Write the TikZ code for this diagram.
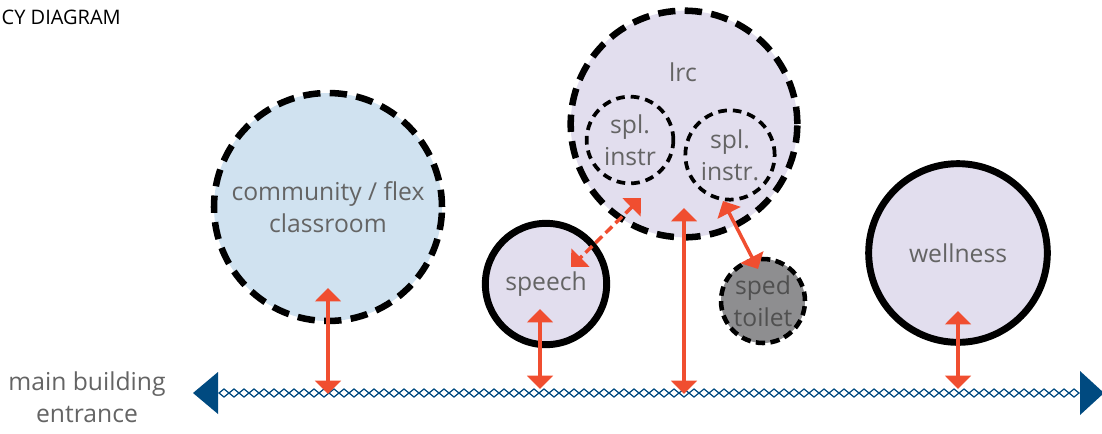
\documentclass[tikz,border=0pt]{standalone}
\usepackage{fontspec}
\setmainfont{Open Sans}
\usetikzlibrary{arrows.meta}
\definecolor{txt}{RGB}{100,100,100}
\definecolor{darktxt}{RGB}{80,80,80}
\definecolor{lblue}{RGB}{208,226,240}
\definecolor{lav}{RGB}{226,222,238}
\definecolor{sgray}{RGB}{142,142,144}
\definecolor{navy}{RGB}{0,74,128}
\definecolor{redarr}{RGB}{240,78,48}
\tikzset{
  lbl/.style={text=txt, font=\fontsize{18.5}{24}\selectfont, align=center},
  room/.style={circle, inner sep=0pt, lbl},
  bigdash/.style={draw=black, line width=4.9pt, dash pattern=on 13pt off 7pt},
  smalldash/.style={draw=black, line width=2.8pt, dash pattern=on 6.5pt off 4.5pt},
  solidb/.style={draw=black, line width=5.2pt},
  link/.style={draw=redarr, line width=2.6pt, {Triangle[width=19pt,length=10pt]}-{Triangle[width=19pt,length=10pt]}},
}
\begin{document}
\begin{tikzpicture}[x=0.75pt, y=-0.75pt]
\useasboundingbox (0,0) rectangle (1102,433);
\node[anchor=west, text=black, font=\fontsize{15}{17}\selectfont] (title) at (-3,17) {CY DIAGRAM};
% rooms
\node[room, bigdash, fill=lblue, minimum size=171pt] (comm) at (328,207) {community / flex\\classroom};
\node[room, bigdash, fill=lav, minimum size=170pt] (lrc) at (684,124) {};
\node[lbl] (lrclbl) at (683,72) {lrc};
\node[room, smalldash, fill=lav, minimum size=65pt] (spl1) at (630,140) {spl.\\instr};
\node[room, smalldash, fill=lav, minimum size=67pt] (spl2) at (730,155) {spl.\\instr.};
\node[room, solidb, fill=lav, minimum size=91pt] (speech) at (546,284) {speech};
\node[room, draw=black, line width=3.4pt, dash pattern=on 7pt off 4pt, fill=sgray, text=darktxt, minimum size=63pt] (sped) at (763,301) {sped\\toilet};
\node[room, solidb, fill=lav, minimum size=134pt] (well) at (958,253) {wellness};
\node[lbl] (entr) at (87,397) {main building\\entrance};
% entrance line
\coordinate (lt) at (193,393);
\coordinate (rt) at (1104,393);
\foreach \i in {0,...,85} {
  \draw[navy, line width=0.9pt] (219+10*\i,393) -- ++(5,-4) -- ++(5,4) -- ++(-5,4) -- cycle;
}
\fill[navy] (lt) -- (218,372) -- (218,414) -- cycle;
\fill[navy] (rt) -- (1080,371) -- (1080,415) -- cycle;
% connectors
\coordinate (c1a) at (328,288);
\coordinate (c1b) at (328,394);
\coordinate (c2a) at (540,309);
\coordinate (c2b) at (540,389);
\coordinate (c3a) at (684,208);
\coordinate (c3b) at (684,394);
\coordinate (c4a) at (958,311);
\coordinate (c4b) at (958,389);
\coordinate (d1) at (641,198);
\coordinate (d2) at (571,267);
\coordinate (e1) at (723,201);
\coordinate (e2) at (758,269);
\draw[link] (c1a) -- (c1b);
\draw[link] (c2a) -- (c2b);
\draw[link] (c3a) -- (c3b);
\draw[link] (c4a) -- (c4b);
\draw[link, dash pattern=on 7pt off 3.5pt] (d1) -- (d2);
\draw[link] (e1) -- (e2);
\end{tikzpicture}
\end{document}
